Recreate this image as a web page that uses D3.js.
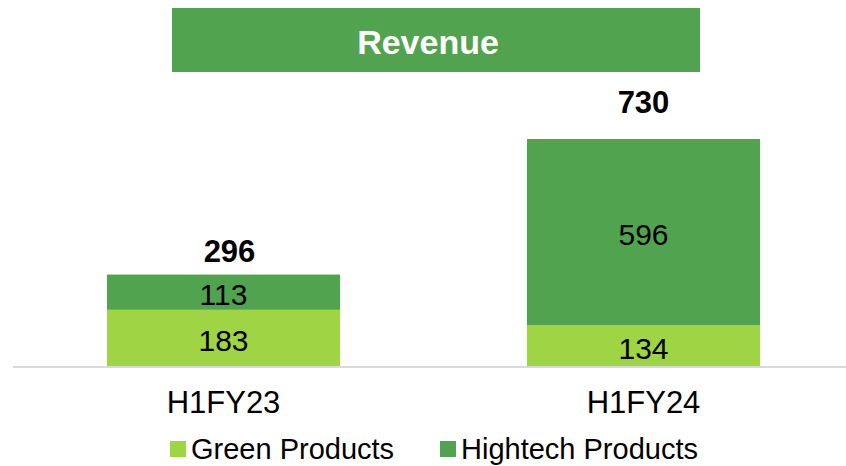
<!DOCTYPE html>
<html>
<head>
<meta charset="utf-8">
<script src="https://cdn.jsdelivr.net/npm/d3@7"></script>
<style>
  body { margin: 0; background: #fff; }
  text { font-family: "Liberation Sans", Arial, sans-serif; }
</style>
</head>
<body>
<svg id="chart" width="846" height="466"></svg>
<script>
// data
const periods = ["H1FY23", "H1FY24"];
const green = [183, 134];
const hightech = [113, 596];
const totals = [296, 730];
const seriesNames = ["Green Products", "Hightech Products"];
const colors = ["#9fd444", "#52a34f"];

let svg = d3.select("#chart");

// title box
svg.append("rect")
   .attr("x", 172).attr("y", 8)
   .attr("width", 528).attr("height", 64)
   .attr("fill", "#52a34f");
svg.append("text")
   .attr("x", 428).attr("y", 54)
   .attr("text-anchor", "middle")
   .attr("font-size", 34).attr("font-weight", "bold")
   .attr("fill", "#fff")
   .text("Revenue");

let x = d3.scaleBand()
          .domain(periods)
          .range([13.5, 853.5])
          .paddingInner(0.445)
          .paddingOuter(0.2225);
let y = d3.scaleLinear()
          .domain([0, 730])
          .range([367, 139]);

let rows = periods.map((p, i) => ({period: p, green: green[i], hightech: hightech[i], total: totals[i]}));
let stack = d3.stack().keys(["green", "hightech"])(rows);

let layer = svg.selectAll("g.layer")
               .data(stack).enter()
               .append("g")
               .attr("class", "layer")
               .attr("fill", (d, i) => colors[i]);

layer.selectAll("rect")
     .data(d => d).enter()
     .append("rect")
     .attr("x", d => x(d.data.period))
     .attr("y", d => y(d[1]))
     .attr("width", x.bandwidth())
     .attr("height", d => y(d[0]) - y(d[1]));

layer.selectAll("text")
     .data(d => d).enter()
     .append("text")
     .attr("x", d => x(d.data.period) + x.bandwidth() / 2)
     .attr("y", d => (y(d[0]) + y(d[1])) / 2 + 2)
     .attr("dy", "0.36em")
     .attr("text-anchor", "middle")
     .attr("font-size", 30)
     .attr("fill", "#000")
     .text(d => d[1] - d[0]);

// totals, the bigger bar's label sits a bit higher in the original
let totalGap = [13, 26];
let totalShift = [6, 0];
svg.selectAll("text.total")
   .data(rows).enter()
   .append("text")
   .attr("class", "total")
   .attr("x", (d, i) => x(d.period) + x.bandwidth() / 2 + totalShift[i])
   .attr("y", (d, i) => y(d.total) - totalGap[i])
   .attr("text-anchor", "middle")
   .attr("font-size", 31).attr("font-weight", "bold")
   .text(d => d.total);

// x axis
let axis = svg.append("g")
              .attr("transform", "translate(0,367)")
              .call(d3.axisBottom(x).tickSize(0).tickPadding(24));
axis.select(".domain").attr("stroke", "#d9d9d9").attr("stroke-width", 2)
    .attr("d", "M13,0H846");
axis.selectAll("text")
    .attr("font-size", 31)
    .attr("font-family", "Liberation Sans, Arial, sans-serif")
    .attr("fill", "#000");

// legend
let legendX = [170, 440];
let legend = svg.selectAll("g.legend")
                .data(seriesNames).enter()
                .append("g")
                .attr("class", "legend")
                .attr("transform", (d, i) => `translate(${legendX[i]}, 441)`);
legend.append("rect")
      .attr("width", 16).attr("height", 16)
      .attr("fill", (d, i) => colors[i]);
legend.append("text")
      .attr("x", 21).attr("y", 18)
      .attr("font-size", 29)
      .text(d => d);
</script>
</body>
</html>
